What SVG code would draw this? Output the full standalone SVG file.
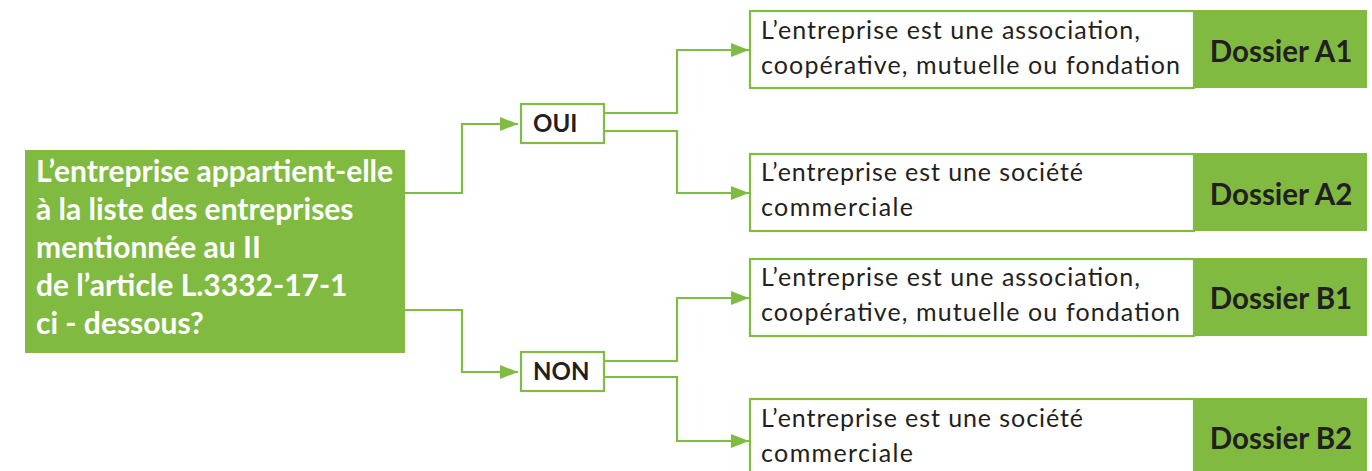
<svg xmlns="http://www.w3.org/2000/svg" width="1372" height="471" viewBox="0 0 1372 471">
<defs>
<style>
.q{font-family:Lato,"Open Sans","Liberation Sans",sans-serif;font-weight:bold;font-size:30px;fill:#ffffff}
.t{font-family:Lato,"Open Sans","Liberation Sans",sans-serif;font-size:25px;fill:#231f20}
.d{font-family:Lato,"Open Sans","Liberation Sans",sans-serif;font-weight:bold;font-size:29.5px;fill:#231f20;text-anchor:middle}
.c{font-family:Lato,"Open Sans","Liberation Sans",sans-serif;font-weight:bold;font-size:24px;fill:#231f20}
.wb{fill:#ffffff;stroke:#80bb42;stroke-width:2.2}
.gb{fill:#80ba41}
.ln{fill:none;stroke:#80bb42;stroke-width:2.2}
</style>
<marker id="ah" markerUnits="userSpaceOnUse" markerWidth="18" markerHeight="14" refX="18" refY="7" orient="auto">
<path d="M0,0 L18,7 L0,14 z" fill="#80bb42"/>
</marker>
</defs>
<rect width="1372" height="471" fill="#ffffff"/>
<g id="connectors">
<path class="ln" d="M405,193 H462 V124 H518" marker-end="url(#ah)"/>
<path class="ln" d="M405,310 H462 V372 H518" marker-end="url(#ah)"/>
<path class="ln" d="M604,113 H677 V50 H749" marker-end="url(#ah)"/>
<path class="ln" d="M604,131 H677 V193 H749" marker-end="url(#ah)"/>
<path class="ln" d="M604,361 H677 V298 H749" marker-end="url(#ah)"/>
<path class="ln" d="M604,377 H677 V441 H749" marker-end="url(#ah)"/>
</g>
<g id="question">
<rect class="gb" x="25" y="150" width="380" height="203"/>
<text class="q" x="36" y="182" textLength="357">L’entreprise appartient-elle</text>
<text class="q" x="36" y="220">à la liste des entreprises</text>
<text class="q" x="36" y="258">mentionnée au II</text>
<text class="q" x="36" y="296">de l’article L.3332-17-1</text>
<text class="q" x="36" y="334">ci - dessous?</text>
</g>
<g id="oui">
<rect class="wb" x="521" y="104" width="83" height="39"/>
<text class="c" x="533" y="132">OUI</text>
</g>
<g id="non">
<rect class="wb" x="521" y="352" width="83" height="39"/>
<text class="c" x="533" y="380">NON</text>
</g>
<g id="a1">
<rect class="wb" x="750" y="11" width="444" height="77"/>
<text class="t" x="761" y="39" textLength="379">L’entreprise est une association,</text>
<text class="t" x="761" y="74" textLength="419">coopérative, mutuelle ou fondation</text>
</g>
<g id="dossier-a1">
<rect class="gb" x="1195" y="10" width="172" height="78"/>
<text class="d" x="1281" y="62">Dossier A1</text>
</g>
<g id="a2">
<rect class="wb" x="750" y="154" width="444" height="77"/>
<text class="t" x="761" y="181" textLength="322">L’entreprise est une société</text>
<text class="t" x="761" y="216" textLength="152">commerciale</text>
</g>
<g id="dossier-a2">
<rect class="gb" x="1195" y="153" width="172" height="78"/>
<text class="d" x="1281" y="205">Dossier A2</text>
</g>
<g id="b1">
<rect class="wb" x="750" y="259" width="444" height="77"/>
<text class="t" x="761" y="286" textLength="379">L’entreprise est une association,</text>
<text class="t" x="761" y="321" textLength="419">coopérative, mutuelle ou fondation</text>
</g>
<g id="dossier-b1">
<rect class="gb" x="1195" y="258" width="172" height="78"/>
<text class="d" x="1281" y="309">Dossier B1</text>
</g>
<g id="b2">
<rect class="wb" x="750" y="399" width="444" height="80"/>
<text class="t" x="761" y="427" textLength="322">L’entreprise est une société</text>
<text class="t" x="761" y="462" textLength="152">commerciale</text>
</g>
<g id="dossier-b2">
<rect class="gb" x="1195" y="398" width="172" height="80"/>
<text class="d" x="1281" y="449">Dossier B2</text>
</g>
</svg>
